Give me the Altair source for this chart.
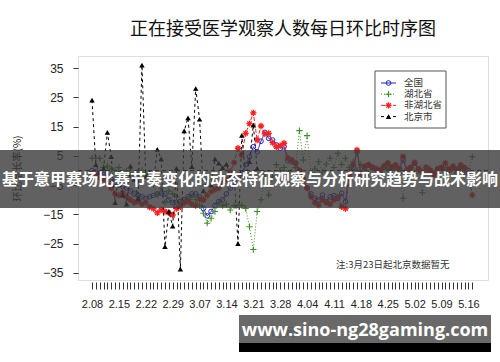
import altair as alt
import pandas as pd

# ---- data ----
date_labels = ["2.08", "2.15", "2.22", "2.29", "3.07", "3.14", "3.21", "3.28",
               "4.04", "4.11", "4.18", "4.25", "5.02", "5.09", "5.16"]
series_names = ["全国", "湖北省", "非湖北省", "北京市"]

quanguo = [0, -0.5, -1, -0.5, -2, -3, -4, -5, -5.5, -6,
           -7, -8, -8.5, -9, -9.5, -9, -8.5, -8, -7.7, -8,
           -10, -11, -11, -10.5, -10, -9, -8, -8, -9, -13,
           -15.5, -14, -12, -10.6, -10, -8, -6, -4, -2, -1,
           2, 4.7, 8.1, 6.4, 10, 13, 11, 10.4, 8.7, 7.6,
           8.1, 3.3, 3, 2.5, 0, -3, -6, -8, -9.5, -10,
           -8.4, -10.6, -9, -8.6, -9.5, -7.8, -10.6, -0.4, 1, 6.4,
           -1.2, 1, 1.9, 1, 0.5, 0, 1, 2.5, 1, 1.5,
           0.5, 3.6, 0, 1, 2.5, 0.5, -0.5, 1, 0, -1,
           0.5, 1, 0.4, 0, 1, 0.5, 1.3, -0.7, 0, -3.2]

hubei = [4.2, 4.2, 4.2, 1, 1.5, 0.5, 0, 1, -0.5, 0,
         -1.5, -1, -0.5, 0, -1, -3, -5, -8.4, -6, -11,
         -7, -8, -9, -11, -11, -10, -9, -10, -12, -14.6,
         -18, -16.3, -14, -11, -12, -11.5, -13.5, -12, -11.8, -12,
         -13, -19.2, -27, -14, -10, -1, -8.4, -2, 2, 0,
         1, -1, -0.5, 1, 13.6, 3.6, 11.9, -0.8, 0.5, 3,
         -0.5, 2.2, 4.2, 1, 5.9, 2, 4.2, 1, 3, 0,
         2, 1.5, -1, 1, 0, -1, 1, 0.5, 1, 0,
         -1, -9.5, 0.5, 1, -1, 0, -7.6, -0.5, 0.5, -1,
         0, 1, -0.5, 0, 1, -1, 0.5, 0, -0.5, 4.7]

feihubei = [-1, -1.5, -2.5, -3, -4.5, -6, -8, -8.5, -7.7, -9,
            -10, -11, -10.5, -11.5, -11, -12.5, -13, -14.5, -13.5, -14,
            -14.5, -15.2, -13, -12.4, -11, -10.5, -11.5, -12, -9.8, -10,
            -8.5, -7.2, -6.5, -6, -4.4, -3.2, -0.4, 2.7, 7.6, 5.3,
            12.7, 16, 19.7, 10.4, 15.2, 12.5, 12.7, 9.5, 8.1, 8.5,
            9.3, 4.2, 3.6, 2.5, 0, -3, -6, -9, -11, -11.8,
            -10, -11, -11.5, -10, -9, -12.4, -13, -1.5, 1.9, 7,
            -1, 1.5, 1.9, 1.1, 0.5, 0, 1.5, 2.5, 1, 1.9,
            0.5, 4.7, -0.5, 1, 2.7, 0.5, -0.7, 1, 0, -1.5,
            0.5, 1, 2.5, 0.5, 1.5, 0, 1.9, 1, -0.7, -8.4]

beijing = [24, 2, -0.7, 0.7, 13, 4.7, -11, -0.7, -8.4, -11.5,
           1.5, -3, -9.5, 36, -2, -0.7, -4, 7.2, 4, -26,
           -14, -19, 0.7, -33.7, 13.5, 18, 1.3, 28, 17.5, -7,
           -3, -5, 4, 2.5, 1, 2.2, -2, -1, -25, 12,
           -2, 3, 15.5, 0.7]

y_ticks = [-35, -25, -15, -5, 5, 15, 25, 35]

# ---- styles ----
colors = ["#2323c8", "#3f8f22", "#ff1f1f", "#000000"]
dashes = [[1, 0], [1, 2], [4, 2], [3, 3]]
plus_path = "M-1,0H1M0,-1V1"
star_path = "M-1,0H1M0,-1V1M-0.7,-0.7L0.7,0.7M-0.7,0.7L0.7,-0.7"

W, H = 410, 224
xscale = alt.Scale(domain=[-3.65, 103.1], nice=False, zero=False)
yscale = alt.Scale(domain=[-37.4, 39.1], nice=False, zero=False)

label_arr = "[" + ",".join("'" + s + "'" for s in date_labels) + "]"
xaxis = alt.Axis(values=list(range(0, 100)), tickSize=7, domain=False, grid=False,
                 offset=2, labelPadding=9, labelFontSize=11, labelFont="Liberation Sans",
                 labelColor="#222", tickColor="#333", labelOverlap=False, labelFlush=False,
                 labelExpr="datum.value % 7 == 0 ? " + label_arr + "[datum.value / 7] : ''",
                 title="时间", titleFont="Noto Sans CJK SC", titleFontWeight="normal",
                 titleFontSize=12, titleColor="#222", titleY=50, titleBaseline="middle")
yaxis = alt.Axis(values=y_ticks, tickSize=5, domain=False, grid=False, labelPadding=10,
                 labelFontSize=12, labelFont="Liberation Sans", labelColor="#222",
                 tickColor="#333", title="环比增长率(%)", titleFont="Noto Sans CJK SC",
                 titleFontWeight="normal", titleFontSize=10, titleColor="#222",
                 titleX=-61, titleY=112, titleAngle=-90, titleAlign="center",
                 titleBaseline="middle")


def series_df(vals, name):
    return pd.DataFrame({"day": list(range(len(vals))), "value": vals, "series": name})


frames = [series_df(quanguo, series_names[0]), series_df(hubei, series_names[1]),
          series_df(feihubei, series_names[2]), series_df(beijing, series_names[3])]

layers = []
# zero reference line
zero_df = pd.DataFrame({"value": [0]})
layers.append(alt.Chart(zero_df).mark_rule(color="#222", strokeDash=[4, 3], strokeWidth=1)
              .encode(y=alt.Y("value:Q", scale=yscale, axis=yaxis)))

point_specs = [
    dict(shape="circle", filled=False, size=22, strokeWidth=1),
    dict(shape=plus_path, filled=False, size=40, strokeWidth=1.1),
    dict(shape=star_path, filled=False, size=40, strokeWidth=1.3),
    dict(shape="triangle-up", filled=True, size=30, strokeWidth=0),
]

for i, df in enumerate(frames):
    base = alt.Chart(df).encode(
        x=alt.X("day:Q", scale=xscale, axis=xaxis),
        y=alt.Y("value:Q", scale=yscale, axis=yaxis),
    )
    layers.append(base.mark_line(color=colors[i], strokeDash=dashes[i], strokeWidth=1))
    layers.append(base.mark_point(color=colors[i], opacity=1, **point_specs[i]))

# ---- manual legend ----
one = pd.DataFrame({"a": [0]})
layers.append(alt.Chart(one).mark_rect(fill="white", stroke="#555", strokeWidth=1).encode(
    x=alt.value(297), x2=alt.value(368), y=alt.value(15), y2=alt.value(72)))
for i, name in enumerate(series_names):
    ly = 27 + i * 11.2
    ldf = pd.DataFrame({"name": [name]})
    layers.append(alt.Chart(ldf).mark_rule(color=colors[i], strokeDash=dashes[i], strokeWidth=1)
                  .encode(x=alt.value(303), x2=alt.value(318), y=alt.value(ly)))
    layers.append(alt.Chart(ldf).mark_point(color=colors[i], opacity=1, **point_specs[i])
                  .encode(x=alt.value(310.5), y=alt.value(ly)))
    layers.append(alt.Chart(ldf).mark_text(align="left", baseline="middle", fontSize=9.5,
                                           font="Noto Sans CJK SC", color="#333")
                  .encode(x=alt.value(326), y=alt.value(ly), text="name:N"))

# note
note_df = pd.DataFrame({"t": ["注:3月23日起北京数据暂无"]})
layers.append(alt.Chart(note_df).mark_text(align="left", baseline="middle", fontSize=9.5,
                                           font="Noto Sans CJK SC", color="#333")
              .encode(x=alt.value(258), y=alt.value(209), text="t:N"))

# ---- overlay banner ----
banner_df = pd.DataFrame({"t": ["基于意甲赛场比赛节奏变化的动态特征观察与分析研究趋势与战术影响"]})
layers.append(alt.Chart(banner_df).mark_rect(fill="#3a3a3a", opacity=0.8).encode(
    x=alt.value(-78), x2=alt.value(422), y=alt.value(94), y2=alt.value(152)))
layers.append(alt.Chart(banner_df).mark_text(align="center", baseline="middle", fontSize=16,
                                             fontWeight="bold", font="Noto Sans CJK SC",
                                             color="white")
              .encode(x=alt.value(172), y=alt.value(124), text="t:N"))

# ---- watermark ----
wm_df = pd.DataFrame({"t": ["www.sino-ng28gaming.com"]})
layers.append(alt.Chart(wm_df).mark_rect(fill="#5c5c5c", opacity=0.92).encode(
    x=alt.value(161), x2=alt.value(413), y=alt.value(259), y2=alt.value(287)))
layers.append(alt.Chart(wm_df).mark_rect(fill="#000000").encode(
    x=alt.value(161), x2=alt.value(413), y=alt.value(287), y2=alt.value(296)))
layers.append(alt.Chart(wm_df).mark_text(align="center", baseline="middle", fontSize=18,
                                         fontWeight="bold", font="Open Sans", color="white")
              .encode(x=alt.value(287), y=alt.value(275), text="t:N"))

chart = alt.layer(*layers).properties(
    width=W, height=H,
    title=alt.TitleParams("正在接受医学观察人数每日环比时序图", font="Noto Sans CJK SC",
                          fontSize=18, fontWeight="normal", color="#111",
                          anchor="middle", offset=17),
    autosize=alt.AutoSizeParams(type="none"),
    padding={"left": 78, "top": 56, "right": 12, "bottom": 82},
).configure_view(stroke="#333", strokeWidth=1, fill="white").configure(background="white")

chart.save("out.html", embed_options={"renderer": "svg", "actions": False})
